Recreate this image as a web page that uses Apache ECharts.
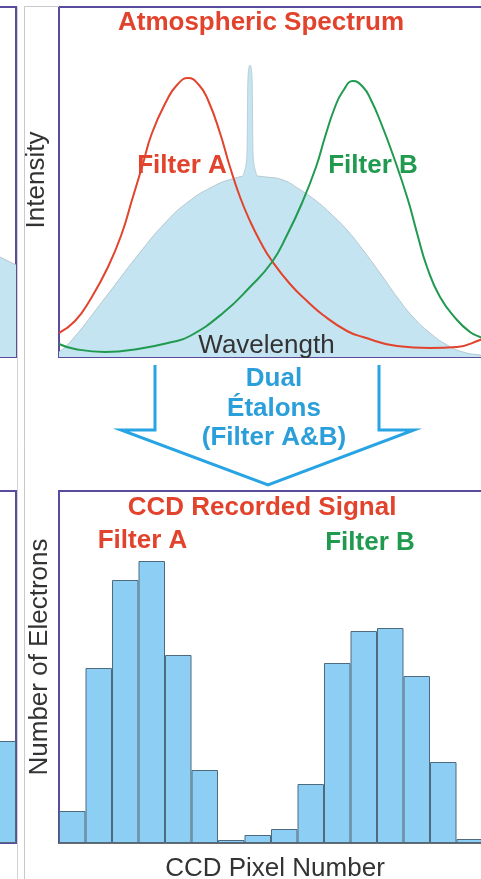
<!DOCTYPE html>
<html>
<head>
<meta charset="utf-8">
<script src="https://cdn.jsdelivr.net/npm/echarts@6/dist/echarts.min.js"></script>
<style>
html,body{margin:0;padding:0;background:#fff;}
#chart{width:481px;height:879px;}
</style>
</head>
<body>
<div id="chart"></div>
<script>
// ---- Data (arbitrary units) ----
// Top panel: wavelength (x) vs intensity (y)
const atmosphericSpectrum = [[0,5],[13,17],[46,59],[79,102],[106,134],[129,155],[153,170],[173,178],[191,181],[207,180],[224,177],[240,168],[256,157],[271,144],[288,127],[304,107],[321,84],[338,60],[354,40],[371,24],[388,12],[404,5],[421,2],[430,1]];
const emissionLine = [[184,181],[187,192],[188,205],[188.5,250],[189,280],[190,290],[191,292],[192,290],[193,280],[193.5,250],[194,205],[195,192],[198,181]];
const filterA = [[0,24],[16,36],[31,57],[49,90],[63,124],[73,157],[83,190],[93,224],[108,257],[118,272],[129,279],[140,272],[149,257],[161,224],[171,190],[181,160],[191,136],[202,114],[213,96],[231,73],[248,56],[264,42],[288,26],[304,20],[338,11],[371,9],[398,10],[421,17],[430,21]];
const filterB = [[0,13],[16,8],[46,5],[79,8],[113,15],[131,21],[164,44],[191,70],[213,95],[228,122],[243,154],[257,190],[266,220],[276,250],[284,266],[294,276],[304,270],[312,257],[322,234],[334,202],[349,157],[358,124],[368,90],[381,60],[398,37],[411,25],[421,20],[430,17]];
// Neighbouring (cropped) panel tail
const neighbourSpectrum = [[0,110],[20,100],[36,92]];

// Bottom panel: CCD pixels vs number of electrons
const ccdPixels = ['1','2','3','4','5','6','7','8','9','10','11','12','13','14','15','16','17'];
const electrons = [32,175,263,282,188,73,3,8,14,59,180,212,215,167,81,4,4];
const neighbourPixels = ['n'];
const neighbourElectrons = [102];

// ---- Styling ----
const RED = '#e2432d', GREEN = '#1f9a4f', BLUE_TXT = '#2a9fda', ARROW = '#28a4e4';
const PURPLE = '#5a4b9e', FILL = '#c5e4f1', EDGE = '#b4c7cf', BAR = '#8ccef4';
const FONT = '"Liberation Sans", Arial, sans-serif';

const chart = echarts.init(document.getElementById('chart'), null, {renderer:'canvas'});

function hiddenAxis(extra){
  return Object.assign({show:true, axisLine:{show:false}, axisTick:{show:false}, axisLabel:{show:false}, splitLine:{show:false}}, extra);
}

function txt(text, x, y, color, size, bold, rot){
  return {
    type:'text', x:x, y:y, rotation: rot || 0, z:100,
    style:{
      text:text, fill:color,
      font:(bold?'bold ':'')+size+'px '+FONT,
      textAlign:'center', textVerticalAlign:'middle',
      align:'center', verticalAlign:'middle'
    }
  };
}

function grid(left, top, width, height){
  return {left:left, top:top, width:width, height:height, show:true, borderColor:PURPLE, borderWidth:2,
          backgroundColor:'transparent', containLabel:false, outerBoundsMode:'none'};
}

const option = {
  animation:false,
  backgroundColor:'#fff',
  grid:[
    grid(59, 7, 430, 350),
    grid(59, 491, 450.5, 352),
    grid(-20, 7, 36, 350),
    grid(-11, 491, 27, 352)
  ],
  xAxis:[
    hiddenAxis({type:'value', gridIndex:0, min:0, max:430}),
    hiddenAxis({type:'category', gridIndex:1, data:ccdPixels, axisLine:{show:true, lineStyle:{color:'#6b6b6b', width:1}}}),
    hiddenAxis({type:'value', gridIndex:2, min:0, max:36}),
    hiddenAxis({type:'category', gridIndex:3, data:neighbourPixels})
  ],
  yAxis:[
    hiddenAxis({type:'value', gridIndex:0, min:0, max:350}),
    hiddenAxis({type:'value', gridIndex:1, min:0, max:352}),
    hiddenAxis({type:'value', gridIndex:2, min:0, max:350}),
    hiddenAxis({type:'value', gridIndex:3, min:0, max:352})
  ],
  series:[
    {name:'Atmospheric Spectrum', type:'line', xAxisIndex:0, yAxisIndex:0, data:atmosphericSpectrum, smooth:0.5, symbol:'none', z:1,
     lineStyle:{color:EDGE, width:1}, areaStyle:{color:FILL, opacity:1}},
    {name:'Emission Line', type:'line', xAxisIndex:0, yAxisIndex:0, data:emissionLine, smooth:0.3, symbol:'none', z:2,
     lineStyle:{color:EDGE, width:0.8}, areaStyle:{color:FILL, opacity:1}},
    {name:'Filter A', type:'line', xAxisIndex:0, yAxisIndex:0, data:filterA, smooth:0.5, symbol:'none', z:3,
     lineStyle:{color:RED, width:2}},
    {name:'Filter B', type:'line', xAxisIndex:0, yAxisIndex:0, data:filterB, smooth:0.5, symbol:'none', z:3,
     lineStyle:{color:GREEN, width:2}},
    {name:'CCD Signal', type:'bar', xAxisIndex:1, yAxisIndex:1, data:electrons, barWidth:'100%', barCategoryGap:0,
     itemStyle:{color:BAR, borderColor:'#4d6a7e', borderWidth:1}},
    {name:'Neighbour Spectrum', type:'line', xAxisIndex:2, yAxisIndex:2, data:neighbourSpectrum, smooth:false, symbol:'none',
     lineStyle:{color:EDGE, width:1}, areaStyle:{color:FILL, opacity:1}},
    {name:'Neighbour CCD', type:'bar', xAxisIndex:3, yAxisIndex:3, data:neighbourElectrons, barWidth:'100%',
     itemStyle:{color:BAR, borderColor:'#4d6a7e', borderWidth:1}}
  ],
  graphic:[
    // panel frame guide lines
    {type:'line', z:0, shape:{x1:24.5, y1:6.5, x2:24.5, y2:879}, style:{stroke:'#c9c9c9', lineWidth:1}},
    {type:'line', z:0, shape:{x1:17.5, y1:6.5, x2:17.5, y2:879}, style:{stroke:'#d2d2d2', lineWidth:1}},
    {type:'line', z:0, shape:{x1:24.5, y1:6.5, x2:59, y2:6.5}, style:{stroke:'#c9c9c9', lineWidth:1}},
    // arrow
    {type:'polyline', z:50, shape:{points:[[155,365],[155,430],[121,430],[268,485],[414,430],[379,430],[379,365]]},
     style:{stroke:ARROW, lineWidth:3, fill:null, lineJoin:'miter'}},
    txt('Atmospheric Spectrum', 261, 23, RED, 26, true),
    txt('Filter A', 182, 166, RED, 26, true),
    txt('Filter B', 373, 166, GREEN, 26, true),
    txt('Wavelength', 266.5, 346, '#333', 26, false),
    txt('Intensity', 36.5, 180, '#333', 26, false, Math.PI/2),
    txt('Dual', 274, 379, BLUE_TXT, 26, true),
    txt('Étalons', 274, 409, BLUE_TXT, 26, true),
    txt('(Filter A&B)', 274, 438, BLUE_TXT, 26, true),
    txt('CCD Recorded Signal', 262, 508, RED, 26, true),
    txt('Filter A', 142.5, 541, RED, 26, true),
    txt('Filter B', 370, 543, GREEN, 26, true),
    txt('Number of Electrons', 39.5, 657, '#333', 26, false, Math.PI/2),
    txt('CCD Pixel Number', 275, 869, '#333', 26, false)
  ]
};
chart.setOption(option);
</script>
</body>
</html>
